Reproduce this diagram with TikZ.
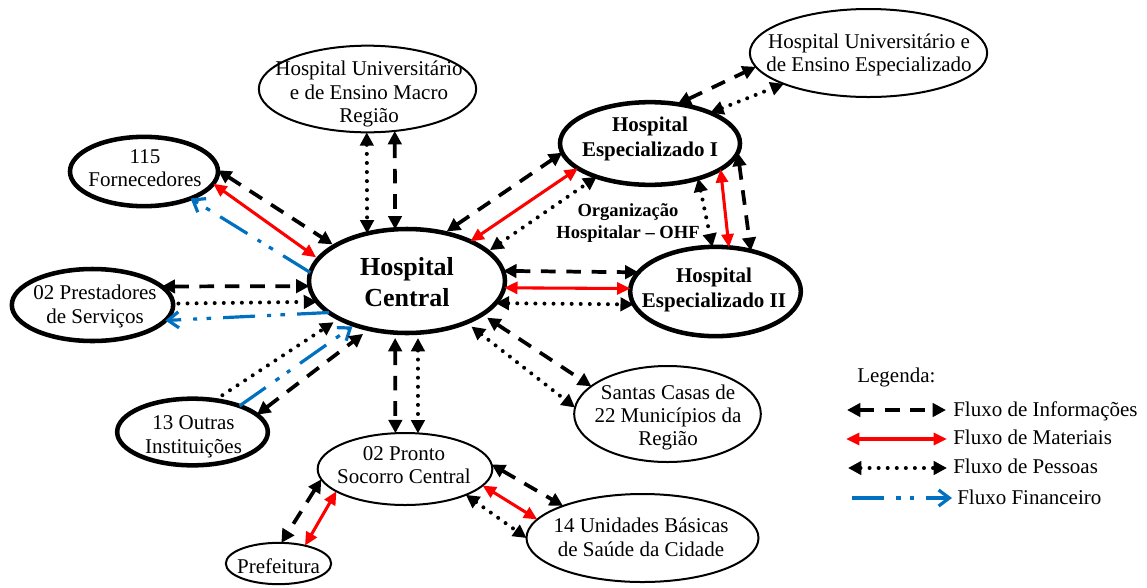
\documentclass[tikz,border=0pt]{standalone}
\usepackage{fontspec}
\setmainfont{Liberation Serif}
\usetikzlibrary{shapes.geometric,arrows.meta}
\definecolor{finblue}{RGB}{0,112,192}
\definecolor{matred}{RGB}{255,0,0}
\begin{document}
\begin{tikzpicture}[x=0.75pt,y=-0.75pt,
  ell/.style={ellipse,draw,inner sep=0pt,outer sep=0pt},
  thickell/.style={ell,line width=3.4pt},
  thinell/.style={ell,line width=1.5pt},
  txt/.style={font=\fontsize{15.75pt}{17.6pt}\selectfont,align=center,inner sep=0pt},
  btxt/.style={font=\fontsize{15.75pt}{19pt}\selectfont\bfseries,align=center,inner sep=0pt},
  hctxt/.style={font=\fontsize{19.5pt}{23.5pt}\selectfont\bfseries,align=center,inner sep=0pt},
  ohf/.style={font=\fontsize{13.9pt}{15.8pt}\selectfont\bfseries,align=center,inner sep=0pt},
  info/.style={line width=2.8pt,dash pattern=on 11pt off 8pt,>={Triangle[length=10pt,width=10pt]},<->},
  mat/.style={line width=2.3pt,matred,>={Triangle[length=10pt,width=9pt]},<->},
  pes/.style={line width=3pt,dash pattern=on 0pt off 6.8pt,line cap=round,>={Triangle[length=10pt,width=10pt]},<->},
  fin/.style={line width=2.4pt,finblue,dash pattern=on 24pt off 9pt on 3.5pt off 7pt on 3pt off 9pt,-{Straight Barb[length=8pt,width=12pt]}}
]
\useasboundingbox (0,0) rectangle (1147,587);

% nodes
\node[thickell,minimum width=147pt,minimum height=78pt] (HC) at (407,281) {};
\node[hctxt] (HCt) at (407,282) {Hospital\\Central};
\node[thinell,minimum width=163pt,minimum height=65pt] (HUM) at (367.5,89) {};
\node[txt] (HUMt) at (369,94) {Hospital Universitário\\e de Ensino Macro\\Região};
\node[thickell,minimum width=111pt,minimum height=52pt] (F) at (144,171.5) {};
\node[txt] (Ft) at (145,168) {115\\Fornecedores};
\node[thickell,minimum width=121pt,minimum height=54pt] (PS) at (92.5,305) {};
\node[txt] (PSt) at (95,306.5) {02 Prestadores\\de Serviços};
\node[thickell,minimum width=113pt,minimum height=50pt] (OI) at (192.5,432) {};
\node[txt] (OIt) at (193.5,437) {13 Outras\\Instituições};
\node[thinell,minimum width=131pt,minimum height=54pt] (PSC) at (405,469) {};
\node[txt] (PSCt) at (404,465) {02 Pronto\\Socorro Central};
\node[thinell,minimum width=79pt,minimum height=31pt] (PF) at (278.5,563.5) {};
\node[txt] (PFt) at (278.5,566) {Prefeitura};
\node[thinell,minimum width=174pt,minimum height=66pt] (UBS) at (642.5,538) {};
\node[txt] (UBSt) at (641,537.5) {14 Unidades Básicas\\de Saúde da Cidade};
\node[thinell,minimum width=140pt,minimum height=72pt] (SC) at (667.5,414) {};
\node[txt] (SCt) at (668,417.5) {Santas Casas de\\22 Municípios da\\Região};
\node[thickell,minimum width=135pt,minimum height=62pt] (HE1) at (650,143.5) {};
\node[btxt] (HE1t) at (650,139) {Hospital\\Especializado I};
\node[thickell,minimum width=128pt,minimum height=67pt] (HE2) at (715.5,291.5) {};
\node[btxt] (HE2t) at (714,290) {Hospital\\Especializado II};
\node[thinell,minimum width=178pt,minimum height=66pt] (HUE) at (868.5,53) {};
\node[txt] (HUEt) at (869,55) {Hospital Universitário e\\de Ensino Especializado};
\node[ohf] (OHF) at (628,223) {Organização\\Hospitalar – OHF};

% HUM - HC
\draw[pes] (HUM.269) -- (HC.130);
\draw[info] (HUM.-57) -- (HC.103);
% Fornecedores - HC
\draw[info,shorten >=2pt] (F.1) -- (HC.154);
\draw[mat,shorten >=2pt] (F.-10) -- (HC.166);
\draw[fin] (HC.175) -- (F.-30);
% Prestadores - HC
\draw[info] (PS.15) -- (HC.183);
\draw[pes,->,shorten <=4pt] (PS.1) -- (HC.193);
\draw[fin] (HC.202) -- (PS.-12);
% Outras - HC
\draw[pes,->,shorten >=5pt] (OI.55) -- (HC.209);
\draw[fin,shorten >=2pt] (OI.29) -- (HC.220);
\draw[info,shorten >=6pt] (OI.15) -- (HC.232);
% HC - Pronto Socorro
\draw[info,shorten <=4pt] (HC.257) -- (PSC.105);
\draw[pes,shorten <=4pt] (HC.282) -- (PSC.70);
% HC - Santas Casas
\draw[pes,shorten <=5pt] (HC.-35) -- (SC.176);
\draw[info,shorten <=4.5pt] (HC.-24) -- (SC.160);
% HC - HE2
\draw[info] (HC.6) -- (HE2.166);
\draw[mat] (HC.-4) -- (HE2.178);
\draw[pes] (HC.-14) -- (HE2.189);
% HC - HE1
\draw[info,shorten <=2pt] (HC.52) -- (HE1.186);
\draw[mat] (HC.32) -- (HE1.199);
\draw[pes,shorten <=2pt] (HC.20) -- (HE1.212);
% HE1 - HE2
\draw[pes] (HE1.-36) -- (HE2.94);
\draw[mat] (HE1.-20) -- (HE2.73);
\draw[info] (HE1.-6) -- (HE2.49);
% HE1 - HUE
\draw[info] (HE1.55) -- (HUE.187);
\draw[pes] (HE1.27) -- (HUE.200);
% PSC - Prefeitura
\draw[info] (PSC.187) -- (PF.82);
\draw[mat] (PSC.198) -- (PF.34);
% PSC - UBS
\draw[info] (PSC.3) -- (UBS.158);
\draw[mat] (PSC.-12) -- (UBS.170);
\draw[pes] (PSC.-23) -- (UBS.180);

% legend
\node[txt,anchor=west] (Leg) at (857,377) {Legenda:};
\coordinate (La) at (847,410); \coordinate (Lb) at (946,410);
\coordinate (Ma) at (846,439); \coordinate (Mb) at (947,439);
\coordinate (Pa) at (848,468); \coordinate (Pb) at (947,468);
\coordinate (Fa) at (852,498); \coordinate (Fb) at (952,498);
\draw[info] (La) -- (Lb);
\draw[mat] (Ma) -- (Mb);
\draw[pes] (Pa) -- (Pb);
\draw[fin] (Fa) -- (Fb);
\node[txt,anchor=west] (Lt1) at (953,411) {Fluxo de Informações};
\node[txt,anchor=west] (Lt2) at (953,437) {Fluxo de Materiais};
\node[txt,anchor=west] (Lt3) at (953,466) {Fluxo de Pessoas};
\node[txt,anchor=west] (Lt4) at (957,497) {Fluxo Financeiro};
\end{tikzpicture}
\end{document}
